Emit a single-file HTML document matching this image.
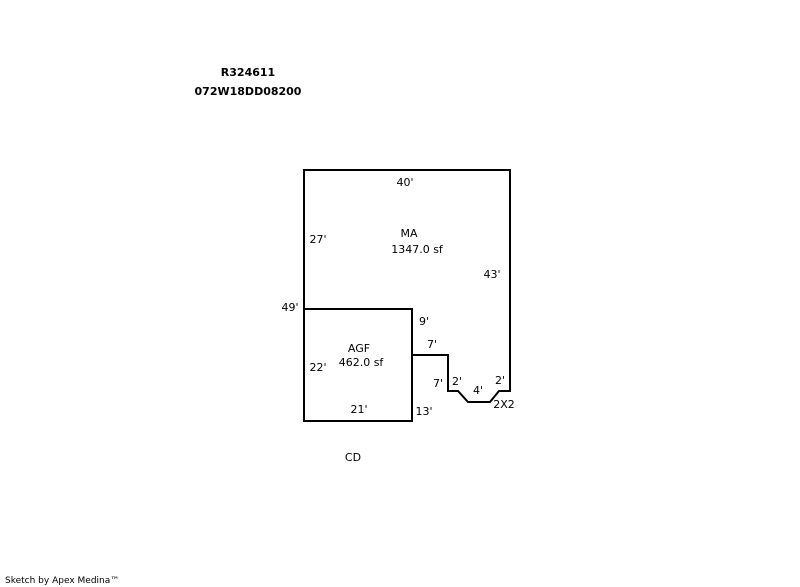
<!DOCTYPE html>
<html><head><style>
body{margin:0;background:#fff;}
svg{display:block}
text{font-family:"DejaVu Sans","Liberation Sans",sans-serif;font-size:11px;fill:#000}
</style></head><body>
<svg width="800" height="587" viewBox="0 0 800 587">
<g fill="none" stroke="#000" stroke-width="2">
<polyline points="304,309 304,170 510,170 510,391 499,391 490,402 468,402 458,391 448,391 448,355 412,355"/>
<rect x="304" y="309" width="108" height="112"/>
</g>
<text x="248" y="76" text-anchor="middle" font-weight="bold">R324611</text>
<text x="248" y="95" text-anchor="middle" font-weight="bold">072W18DD08200</text>
<text x="405" y="186" text-anchor="middle">40'</text>
<text x="409" y="237" text-anchor="middle">MA</text>
<text x="417" y="253" text-anchor="middle">1347.0 sf</text>
<text x="318" y="243" text-anchor="middle">27'</text>
<text x="492" y="278" text-anchor="middle">43'</text>
<text x="290" y="311" text-anchor="middle">49'</text>
<text x="424" y="325" text-anchor="middle">9'</text>
<text x="432" y="348" text-anchor="middle">7'</text>
<text x="359" y="352" text-anchor="middle">AGF</text>
<text x="361" y="366" text-anchor="middle">462.0 sf</text>
<text x="318" y="371" text-anchor="middle">22'</text>
<text x="438" y="387" text-anchor="middle">7'</text>
<text x="457" y="385" text-anchor="middle">2'</text>
<text x="478" y="394" text-anchor="middle">4'</text>
<text x="500" y="384" text-anchor="middle">2'</text>
<text x="504" y="408" text-anchor="middle">2X2</text>
<text x="359" y="413" text-anchor="middle">21'</text>
<text x="424" y="415" text-anchor="middle">13'</text>
<text x="353" y="461" text-anchor="middle">CD</text>
<text x="5" y="583" style="font-size:9px">Sketch by Apex Medina™</text>
</svg>
</body></html>
